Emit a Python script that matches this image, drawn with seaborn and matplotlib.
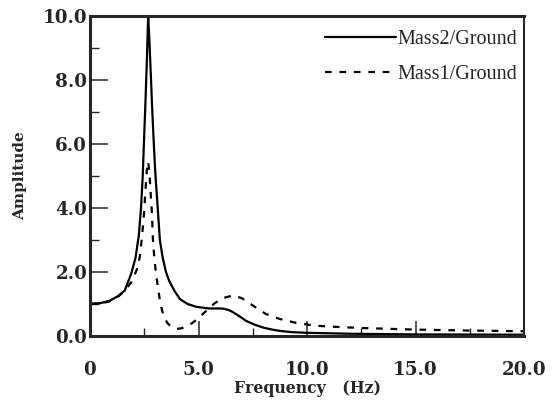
import matplotlib
matplotlib.use('Agg')
import matplotlib.pyplot as plt
import seaborn as sns
from matplotlib.ticker import MultipleLocator

# Mass2/Ground (solid)
freq_m2 = [0.0, 0.5, 0.9, 1.3, 1.6, 1.9, 2.1, 2.25, 2.35, 2.43, 2.5, 2.56,
           2.62, 2.68, 2.74, 2.8, 2.86, 2.92, 3.0, 3.1, 3.22, 3.35, 3.5,
           3.65, 3.9, 4.15, 4.5, 4.9, 5.5, 6.1, 6.4, 6.6, 6.9, 7.2, 7.6,
           8.0, 8.4, 8.75, 9.3, 10.0, 12.0, 15.0, 20.0]
amp_m2 = [1.00, 1.03, 1.10, 1.25, 1.42, 1.95, 2.45, 3.15, 4.0, 5.0, 6.3, 7.4,
          8.6, 10.0, 9.2, 8.2, 7.2, 6.3, 5.2, 4.2, 3.0, 2.45, 2.0,
          1.72, 1.4, 1.15, 1.0, 0.91, 0.86, 0.86, 0.81, 0.74, 0.61, 0.47, 0.35,
          0.26, 0.2, 0.16, 0.12, 0.10, 0.07, 0.05, 0.04]

# Mass1/Ground (dashed)
freq_m1 = [0.0, 0.5, 0.9, 1.2, 1.45, 1.7, 1.9, 2.05, 2.2, 2.3, 2.38, 2.45,
           2.5, 2.56, 2.62, 2.68, 2.74, 2.8, 2.85, 2.9, 2.97, 3.05, 3.2,
           3.32, 3.45, 3.6, 3.8, 3.97, 4.2, 4.5, 4.8, 5.2, 5.7, 6.1, 6.6,
           7.0, 7.4, 7.8, 8.1, 8.75, 9.5, 10.4, 11.5, 12.5, 15.0, 17.5, 20.0]
amp_m1 = [1.00, 1.02, 1.08, 1.18, 1.32, 1.5, 1.68, 1.9, 2.15, 2.5, 3.0, 3.5,
          3.93, 4.6, 5.2, 5.45, 5.1, 4.4, 3.9, 3.0, 2.4, 1.9, 1.2,
          0.8, 0.53, 0.38, 0.27, 0.22, 0.24, 0.31, 0.45, 0.69, 1.0, 1.18, 1.27,
          1.18, 1.0, 0.82, 0.69, 0.53, 0.41, 0.32, 0.28, 0.25, 0.2, 0.17, 0.15]

x_ticks = [0, 5, 10, 15, 20]
x_labels = ['0', '5.0', '10.0', '15.0', '20.0']
y_ticks = [0, 2, 4, 6, 8, 10]
y_labels = ['0.0', '2.0', '4.0', '6.0', '8.0', '10.0']

sns.set_style('ticks')
plt.rcParams['font.family'] = ['DejaVu Serif']

fig = plt.figure(figsize=(5.55, 4.08), dpi=100)
ax = fig.add_axes([90 / 555, 1 - 336 / 408, 434 / 555, 320 / 408])

sns.lineplot(x=freq_m2, y=amp_m2, color='black', linewidth=1.6,
             label='Mass2/Ground', ax=ax, sort=False)
sns.lineplot(x=freq_m1, y=amp_m1, color='black', linewidth=1.6,
             linestyle=(0, (3, 3.5)), label='Mass1/Ground', ax=ax, sort=False)

ax.set_xlim(0, 20)
ax.set_ylim(0, 10)
ax.set_xticks(x_ticks)
ax.set_xticklabels(x_labels)
ax.set_yticks(y_ticks)
ax.set_yticklabels(y_labels)
ax.xaxis.set_minor_locator(MultipleLocator(2.5))
ax.yaxis.set_minor_locator(MultipleLocator(1))

for side in ['left', 'bottom', 'top']:
    ax.spines[side].set_linewidth(2.2)
ax.spines['right'].set_linewidth(1.5)
ax.spines['right'].set_visible(True)
ax.spines['top'].set_visible(True)

ax.tick_params(axis='y', which='major', direction='in', length=13, width=1.1,
               labelsize=13.2, pad=2)
ax.tick_params(axis='y', which='minor', direction='in', length=6.5, width=1.0)
ax.tick_params(axis='x', which='major', direction='in', length=11, width=1.1,
               labelsize=13.2, pad=18)
ax.tick_params(axis='x', which='minor', direction='in', length=6, width=1.0)
for lab in ax.get_xticklabels() + ax.get_yticklabels():
    lab.set_fontweight('bold')

ax.set_xlabel('Frequency   (Hz)', fontsize=11.3, fontweight='bold', labelpad=1)
ax.set_ylabel('Amplitude', fontsize=11, fontweight='bold', labelpad=11)

leg = ax.legend(loc='upper right', bbox_to_anchor=(0.985, 0.955),
                frameon=False, handlelength=3.5, handletextpad=0.1,
                labelspacing=0.75, borderpad=0, borderaxespad=0,
                prop={'family': 'Liberation Serif', 'size': 14.5})

fig.savefig('out.png', dpi=100)
